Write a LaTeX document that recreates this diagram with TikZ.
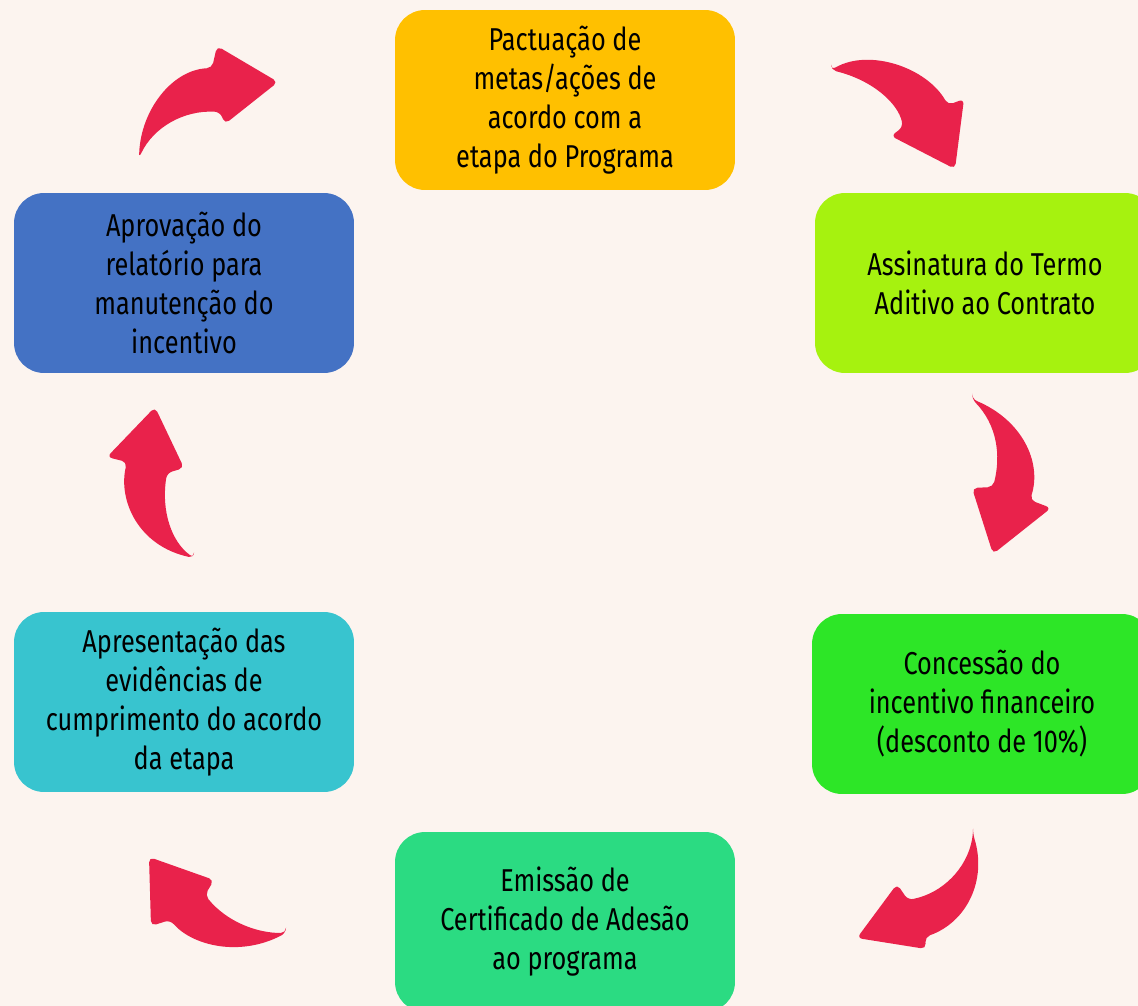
\documentclass[tikz,border=0pt]{standalone}
\usepackage{fontspec}
\setmainfont[FakeStretch=0.8]{Fira Sans}
\usepackage{tikz}
\usetikzlibrary{positioning}

\definecolor{bgcream}{HTML}{FCF4EF}
\definecolor{arrowred}{HTML}{E9224B}
\definecolor{stepyellow}{HTML}{FFC000}
\definecolor{steplime}{HTML}{A6F20F}
\definecolor{stepgreen}{HTML}{2DE627}
\definecolor{stepemerald}{HTML}{2BDB82}
\definecolor{stepcyan}{HTML}{38C4CF}
\definecolor{stepblue}{HTML}{4472C4}

\begin{document}
\begin{tikzpicture}[
        x=0.02cm, y=-0.02cm,
        stepbox/.style = {rectangle, rounded corners=0.6cm, fill=#1, draw=none,
                minimum width=6.8cm, minimum height=3.6cm, align=center,
                font=\fontsize{18}{22.2}\selectfont, text=black},
        curl/.style = {fill=arrowred, draw=none, rounded corners=3pt},
        ]
        \useasboundingbox (0,0) rectangle (1138,1006);
        \fill[bgcream] (0,0) rectangle (1138,1006);

        % the six steps of the cycle
        \node[stepbox=stepyellow] (pact) at (565,100) {Pactuação de\\metas/ações de\\acordo com a\\etapa do Programa};
        \node[stepbox=steplime] (term) at (985,283) {Assinatura do Termo\\Aditivo ao Contrato};
        \node[stepbox=stepgreen] (desc) at (982,704) {Concessão do\\incentivo financeiro\\(desconto de 10\%)};
        \node[stepbox=stepemerald] (cert) at (565,922) {Emissão de\\Certificado de Adesão\\ao programa};
        \node[stepbox=stepcyan] (evid) at (184,702) {Apresentação das\\evidências de\\cumprimento do acordo\\da etapa};
        \node[stepbox=stepblue] (rela) at (184,283) {Aprovação do\\relatório para\\manutenção do\\incentivo};

        % curved arrows between the steps
        \fill[curl] (831,70) .. controls (870,48) and (927,68) .. (948,105) -- (964,99) -- (955,169)
                -- (891,136) -- (903,127) .. controls (898,103) and (872,80) .. (831,70) -- cycle;
        \fill[curl] (972,399) .. controls (1022,420) and (1042,462) .. (1030,500) -- (1051,508) -- (993,554)
                -- (972,488) -- (993,487) .. controls (1001,455) and (997,425) .. (972,399) -- cycle;
        \fill[curl] (973,834) .. controls (987,880) and (967,922) .. (925,937) -- (926,949) -- (857,938)
                -- (897,884) -- (908,900) .. controls (943,893) and (967,868) .. (973,834) -- cycle;
        \fill[curl] (286,933) .. controls (240,957) and (193,946) .. (170,920) -- (151,926) -- (149,857)
                -- (214,880) -- (205,895) .. controls (227,922) and (257,933) .. (286,933) -- cycle;
        \fill[curl] (194,558) .. controls (138,546) and (118,500) .. (127,462) -- (107,457) -- (155,407)
                -- (184,468) -- (167,473) .. controls (161,512) and (172,542) .. (194,558) -- cycle;
        \fill[curl] (139,158) .. controls (141,110) and (172,70) .. (212,68) -- (217,46) -- (278,82)
                -- (225,124) -- (220,112) .. controls (183,110) and (153,128) .. (139,158) -- cycle;
    \end{tikzpicture}
\end{document}
